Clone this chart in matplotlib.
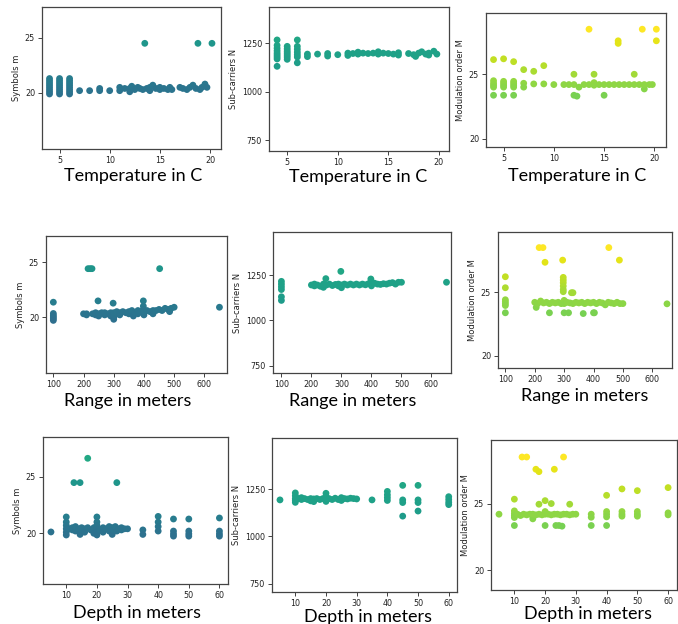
import numpy as np
import matplotlib.pyplot as plt
from matplotlib.colors import Normalize

# ---- data ----
# temperature vs symbols m
temp_sym_x = [4, 4, 4, 4, 4, 4, 4, 4, 5, 5, 5, 5, 5, 5, 5, 5, 6, 6, 6, 6, 6, 6, 6, 6,
              7, 8, 9, 9, 10, 11, 11, 11.5, 12, 12, 12.2, 12.5, 12.8, 13, 13.3, 13.5, 13.7,
              14, 14, 14.3, 14.6, 15, 15, 15.4, 15.8, 16, 16.2, 17, 17.3, 17.7, 18, 18.3,
              18.6, 18.8, 19, 19.2, 19.5, 19.7, 20.2]
temp_sym_y = [19.9, 20.1, 20.3, 20.5, 20.7, 20.9, 21.1, 21.3, 19.9, 20.1, 20.3, 20.5, 20.7, 20.9, 21.1, 21.3,
              19.9, 20.1, 20.3, 20.5, 20.7, 20.9, 21.1, 21.3,
              20.2, 20.2, 20.2, 20.4, 20.2, 20.2, 20.5, 20.4, 20.1, 20.4, 20.6, 20.3, 20.5, 20.4, 20.3, 24.5, 20.4,
              20.2, 20.5, 20.7, 20.4, 20.3, 20.5, 20.4, 20.3, 20.5, 20.3, 20.5, 20.4, 20.3, 20.5, 20.7,
              20.4, 24.5, 20.3, 20.5, 20.8, 20.5, 24.5]

# temperature vs sub-carriers N
temp_n_x = [4, 4, 4, 4, 4, 4, 4, 4, 4, 5, 5, 5, 5, 5, 5, 5, 6, 6, 6, 6, 6, 6, 6,
            7, 7, 8, 9, 9, 10, 11, 11, 11.5, 12, 12, 12.5, 13, 13.5, 14, 14, 14.5, 15, 15.5,
            16, 16, 17, 17.5, 17.7, 18, 18.3, 18.7, 19, 19, 19.5, 19.8]
temp_n_y = [1268, 1240, 1225, 1212, 1200, 1190, 1180, 1170, 1132, 1235, 1222, 1210, 1200, 1190, 1180, 1168,
            1268, 1235, 1220, 1205, 1192, 1180, 1150,
            1182, 1195, 1195, 1185, 1198, 1192, 1188, 1200, 1198, 1195, 1205, 1200, 1198, 1200, 1195, 1207, 1200,
            1198, 1195, 1190, 1202, 1198, 1192, 1183, 1200, 1207, 1195, 1190, 1200, 1210, 1195]

# temperature vs modulation order M
temp_mod_x = [4, 4, 4, 4, 4, 4, 5, 5, 5, 5, 5, 5, 6, 6, 6, 6, 6, 6, 7, 7, 7, 8, 8, 9, 9, 10,
              11, 11.5, 12, 12, 12, 12.3, 12.5, 13, 13.5, 13.5, 14, 14, 14, 14.5, 15, 15, 15.5, 16,
              16.4, 16.4, 16.5, 17, 17.5, 18, 18, 18.5, 18.8, 19, 19, 19.5, 19.8, 20.2, 20.2]
temp_mod_y = [26.14, 24.5, 24.3, 24.15, 24.0, 23.37, 26.2, 24.45, 24.3, 24.15, 24.0, 23.37,
              25.98, 24.45, 24.3, 24.15, 24.0, 23.37, 25.36, 24.3, 24.0, 25.23, 24.25, 25.67, 24.25, 24.2,
              24.2, 24.2, 25.0, 24.2, 23.37, 23.3, 24.0, 24.2, 28.5, 24.2, 25.0, 24.35, 24.15, 24.2, 23.37, 24.2,
              24.2, 24.2, 27.6, 27.4, 24.2, 24.2, 24.2, 25.0, 24.2, 24.2, 28.5, 23.86, 24.2, 24.2, 24.2, 28.5, 27.6]

# range vs symbols m
range_sym_x = [100, 100, 100, 100, 100, 100, 200, 210, 210, 215, 222, 228, 230, 240, 240, 248, 250, 250,
               260, 270, 270, 280, 290, 290, 298, 300, 300, 300, 300, 310, 310, 320, 320, 330, 340, 350,
               350, 360, 365, 370, 380, 380, 390, 398, 398, 398, 400, 400, 410, 420, 430, 430, 440, 452,
               450, 460, 470, 480, 485, 490, 500, 650]
range_sym_y = [21.36, 20.33, 20.15, 20.0, 19.85, 19.7, 20.3, 20.2, 20.3, 24.42, 24.42, 24.42, 20.3, 20.2, 20.4,
               21.48, 20.1, 20.3, 20.4, 20.2, 20.4, 20.3, 20.4, 20.1, 21.27, 19.8, 20.0, 20.2, 20.4, 20.3, 20.5,
               20.4, 20.2, 20.5, 20.4, 20.5, 20.3, 20.6, 20.1, 20.4, 20.6, 20.3, 20.5, 21.48, 21.0, 20.7, 20.2,
               20.5, 20.6, 20.5, 20.6, 20.3, 20.6, 24.42, 20.7, 20.6, 20.8, 20.7, 20.5, 20.8, 20.9, 20.9]

# range vs sub-carriers N
range_n_x = [100, 100, 100, 100, 100, 100, 200, 210, 210, 220, 230, 240, 240, 248, 250, 260, 270, 280,
             290, 290, 298, 300, 300, 310, 320, 330, 340, 350, 360, 370, 380, 390, 398, 400, 400, 410,
             420, 430, 440, 450, 460, 470, 480, 490, 500, 650]
range_n_y = [1215, 1200, 1185, 1170, 1130, 1110, 1195, 1190, 1200, 1195, 1188, 1182, 1200, 1230, 1195, 1200,
             1192, 1198, 1190, 1200, 1270, 1180, 1195, 1200, 1195, 1200, 1195, 1200, 1195, 1200, 1196, 1202,
             1228, 1200, 1190, 1205, 1200, 1198, 1202, 1200, 1205, 1208, 1200, 1210, 1210, 1210]

# range vs modulation order M
range_mod_x = [100, 100, 100, 100, 100, 100, 100, 200, 205, 210, 215, 220, 228, 230, 235, 240, 250, 250,
               260, 270, 280, 290, 295, 297, 297, 297, 297, 297, 297, 300, 300, 300, 310, 315, 320, 325,
               330, 330, 340, 350, 360, 365, 370, 380, 390, 400, 400, 403, 410, 420, 430, 440, 450, 452,
               460, 470, 480, 488, 490, 500, 650]
range_mod_y = [26.2, 25.34, 24.4, 24.25, 24.1, 23.95, 23.38, 24.2, 23.8, 24.1, 28.48, 24.3, 28.48, 24.15, 27.33,
               24.2, 23.38, 24.1, 24.2, 24.15, 24.2, 24.1, 27.5, 26.15, 25.94, 25.73, 25.47, 25.2, 25.03,
               24.35, 24.1, 23.38, 24.2, 23.38, 24.15, 24.95, 24.95, 24.1, 24.2, 24.15, 24.2, 23.32, 24.1,
               24.2, 24.15, 24.2, 23.38, 23.38, 24.1, 24.2, 24.15, 24.0, 24.2, 28.48, 24.15, 24.1, 24.2, 27.5,
               24.1, 24.1, 24.08]

# depth vs symbols m
depth_sym_x = [5, 10, 10, 10, 10, 10, 10, 11, 12, 12, 12.5, 13, 13, 14, 14.5, 14.5, 15, 15, 16, 16, 17, 17,
               18, 19, 19, 20, 20, 20, 20, 20, 20, 21, 22, 22, 23, 24, 24, 25, 25, 25.5, 26, 26.5, 26.5,
               27, 28, 28, 29, 30, 35, 35, 40, 40, 40, 40, 45, 45, 45, 45, 50, 50, 50, 50, 60, 60, 60, 60]
depth_sym_y = [20.12, 21.45, 21.0, 20.7, 20.4, 20.1, 19.85, 20.4, 20.3, 20.5, 24.5, 20.2, 20.6, 20.4, 24.5, 19.9,
               20.3, 20.5, 20.4, 20.1, 26.66, 20.5, 20.3, 20.5, 20.0, 21.45, 21.0, 20.7, 20.4, 20.1, 19.85,
               20.3, 20.5, 20.1, 20.4, 20.6, 20.2, 20.5, 19.9, 20.3, 20.6, 24.5, 20.2, 20.4, 20.5, 20.3, 20.4,
               20.4, 20.3, 19.9, 21.5, 21.0, 20.6, 20.2, 21.27, 20.2, 19.95, 19.75, 21.27, 20.2, 19.95, 19.75,
               21.36, 20.2, 19.95, 19.75]

# depth vs sub-carriers N
depth_n_x = [5, 10, 10, 10, 10, 10, 11, 12, 12, 13, 14, 15, 15, 16, 16, 17, 18, 19, 20, 20, 20, 20, 21, 22,
             23, 24, 25, 25, 26, 27, 28, 29, 30, 35, 40, 40, 40, 40, 45, 45, 45, 45, 50, 50, 50, 50,
             60, 60, 60, 60]
depth_n_y = [1193, 1230, 1215, 1200, 1190, 1180, 1200, 1195, 1205, 1200, 1195, 1200, 1188, 1198, 1184, 1200,
             1195, 1200, 1228, 1210, 1195, 1185, 1200, 1195, 1202, 1195, 1205, 1190, 1200, 1198, 1202, 1200,
             1198, 1193, 1238, 1220, 1205, 1190, 1270, 1193, 1179, 1107, 1270, 1193, 1179, 1134,
             1210, 1195, 1180, 1168]

# depth vs modulation order M
depth_mod_x = [5, 10, 10, 10, 10, 10, 10, 11, 12, 12.5, 13, 14, 14, 15, 16, 16, 17, 17, 18, 18, 18, 19,
               20, 20, 20, 20, 21, 22, 22, 23, 23, 23.5, 24, 24.5, 25, 25.5, 26, 26, 27, 28, 28, 29, 30,
               35, 35, 35, 40, 40, 40, 40, 40, 45, 45, 45, 45, 50, 50, 50, 50, 60, 60, 60]
depth_mod_y = [24.2, 25.33, 24.45, 24.25, 24.1, 23.95, 23.35, 24.2, 24.1, 28.5, 24.2, 28.5, 24.15, 24.2, 23.85,
               24.2, 27.58, 24.15, 27.4, 24.95, 24.2, 24.15, 25.22, 24.4, 24.2, 23.35, 24.2, 25.0, 24.15, 27.58,
               24.2, 23.35, 24.2, 23.35, 24.15, 23.3, 28.5, 24.2, 24.2, 24.95, 24.15, 24.2, 24.2,
               24.2, 23.97, 23.35, 25.62, 24.4, 24.2, 24.0, 23.35, 26.1, 24.4, 24.2, 24.05, 25.97, 24.4, 24.2,
               24.05, 26.2, 24.3, 24.15]

W, H = 678, 624
fig = plt.figure(figsize=(W / 100, H / 100), dpi=100)

sym_norm = Normalize(9, 38.5)
n_norm = Normalize(-800, 2700)
mod_norm = Normalize(3, 28.5)


def panel(box, x, y, norm, xlim, ylim, xticks, yticks, ylabel, xlabel, label_xy):
    left, top, right, bottom = box
    ax = fig.add_axes([left / W, 1 - bottom / H, (right - left) / W, (bottom - top) / H])
    ax.scatter(x, y, c=y, cmap='viridis', norm=norm, s=24, linewidths=0)
    ax.set_xlim(xlim)
    ax.set_ylim(ylim)
    ax.set_xticks(xticks)
    ax.set_yticks(yticks)
    ax.tick_params(labelsize=5.8, length=3, width=0.6, pad=2, colors='#222222')
    for sp in ax.spines.values():
        sp.set_color('#444444')
        sp.set_linewidth(0.9)
    ax.set_ylabel(ylabel, fontsize=6, color='#222222', labelpad=3)
    fig.text(label_xy[0] / W, 1 - label_xy[1] / H, xlabel, family='Lato', fontsize=13,
             ha='center', va='center')
    return ax


tx = [5, 10, 15, 20]
rx = [100, 200, 300, 400, 500, 600]
dx = [10, 20, 30, 40, 50, 60]

panel((42, 7, 221, 149), temp_sym_x, temp_sym_y, sym_norm, (3.25, 21.1), (14.9, 27.8), tx, [20, 25],
      'Symbols m', 'Temperature in C', (133, 176))
panel((269, 7, 449, 151), temp_n_x, temp_n_y, n_norm, (3.2, 21), (695, 1438), tx, [750, 1000, 1250],
      'Sub-carriers N', 'Temperature in C', (358, 177))
panel((486, 13, 666, 147), temp_mod_x, temp_mod_y, mod_norm, (3.25, 21.16), (19.35, 29.76), tx, [20, 25],
      'Modulation order M', 'Temperature in C', (577, 176))

panel((46, 236, 227, 373), range_sym_x, range_sym_y, sym_norm, (75.7, 675), (14.9, 27.4), rx, [20, 25],
      'Symbols m', 'Range in meters', (128, 401))
panel((273, 232, 451, 373), range_n_x, range_n_y, n_norm, (72, 665), (710, 1487), rx, [750, 1000, 1250],
      'Sub-carriers N', 'Range in meters', (353, 401))
panel((498, 232, 672, 368), range_mod_x, range_mod_y, mod_norm, (75, 667), (19.06, 29.7), rx, [20, 25],
      'Modulation order M', 'Range in meters', (585, 396))

panel((43, 437, 228, 584), depth_sym_x, depth_sym_y, sym_norm, (2.4, 62.8), (15.5, 28.55), dx, [20, 25],
      'Symbols m', 'Depth in meters', (137, 613))
panel((272, 438, 457, 592), depth_n_x, depth_n_y, n_norm, (2.4, 62.7), (705, 1521), dx, [750, 1000, 1250],
      'Sub-carriers N', 'Depth in meters', (368, 617))
panel((491, 440, 677, 590), depth_mod_x, depth_mod_y, mod_norm, (2.4, 62.9), (18.5, 29.78), dx, [20, 25],
      'Modulation order M', 'Depth in meters', (588, 614))

fig.savefig('out.png', dpi=100)
